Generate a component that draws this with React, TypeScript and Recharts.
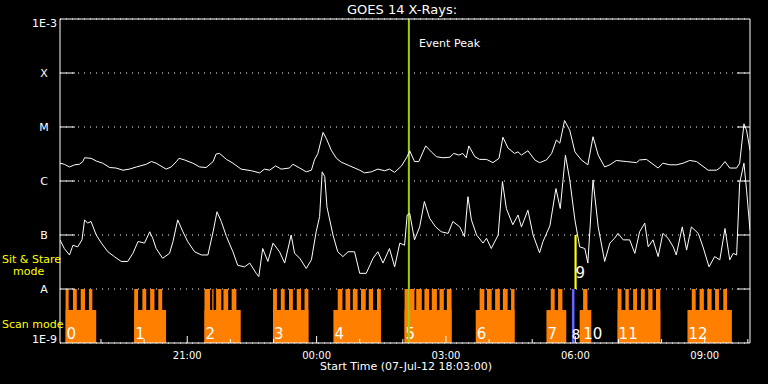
import { LineChart, Line, XAxis, YAxis, CartesianGrid, ReferenceArea, ReferenceLine } from "recharts";

// time axis in decimal hours of day (past midnight = 24+), start 07-Jul-12 18:03
const T_START = 18.05;
const T_END = 34.05;
const hourTicks = [19, 20, 21, 22, 23, 24, 25, 26, 27, 28, 29, 30, 31, 32, 33, 34];

// flux axis as log10(W/m^2)
const fluxTicks = [-9, -8, -7, -6, -5, -4, -3];
const fluxLabels = ["1E-9", "A", "B", "C", "M", "X", "1E-3"];

// GOES 14 1-8 A (long channel): [hour, log10 flux]
const longChannel: [number, number][] = [
  [18.05, -5.67], [18.15, -5.69], [18.27, -5.74], [18.39, -5.7], [18.5, -5.69], [18.58, -5.64],
  [18.62, -5.57], [18.77, -5.58], [18.89, -5.63], [19.04, -5.67], [19.2, -5.75], [19.35, -5.76],
  [19.51, -5.8], [19.66, -5.78], [19.82, -5.74], [20.05, -5.69], [20.17, -5.64], [20.28, -5.67],
  [20.51, -5.78], [20.63, -5.74], [20.75, -5.64], [20.81, -5.58], [20.94, -5.61], [21.13, -5.67],
  [21.29, -5.74], [21.44, -5.75], [21.6, -5.64], [21.67, -5.5], [21.75, -5.49], [21.91, -5.6],
  [22.06, -5.67], [22.25, -5.78], [22.49, -5.81], [22.68, -5.85], [22.79, -5.78], [22.91, -5.8],
  [23.05, -5.72], [23.18, -5.78], [23.37, -5.76], [23.45, -5.69], [23.61, -5.76], [23.76, -5.83],
  [23.88, -5.8], [23.95, -5.61], [24.03, -5.49], [24.15, -5.1], [24.23, -5.22], [24.34, -5.43],
  [24.46, -5.58], [24.57, -5.65], [24.77, -5.72], [25.0, -5.8], [25.11, -5.85], [25.27, -5.83],
  [25.42, -5.78], [25.58, -5.81], [25.69, -5.78], [25.81, -5.84], [25.97, -5.72], [26.1, -5.55],
  [26.16, -5.44], [26.27, -5.64], [26.37, -5.64], [26.53, -5.35], [26.66, -5.46], [26.78, -5.55],
  [26.93, -5.57], [27.09, -5.56], [27.18, -5.49], [27.3, -5.52], [27.39, -5.49], [27.47, -5.57],
  [27.53, -5.35], [27.67, -5.55], [27.78, -5.6], [27.94, -5.6], [28.09, -5.66], [28.23, -5.58],
  [28.32, -5.19], [28.44, -5.39], [28.59, -5.49], [28.67, -5.46], [28.75, -5.52], [28.9, -5.44],
  [29.06, -5.61], [29.17, -5.66], [29.33, -5.61], [29.45, -5.49], [29.56, -5.24], [29.64, -5.3],
  [29.75, -4.88], [29.87, -5.06], [29.99, -5.46], [30.14, -5.61], [30.29, -5.7], [30.41, -5.18],
  [30.53, -5.52], [30.68, -5.74], [30.8, -5.7], [30.95, -5.62], [31.18, -5.64], [31.42, -5.66],
  [31.49, -5.61], [31.65, -5.6], [31.92, -5.76], [32.03, -5.67], [32.19, -5.7], [32.35, -5.7],
  [32.5, -5.67], [32.65, -5.62], [32.81, -5.64], [33.08, -5.8], [33.27, -5.8], [33.35, -5.76],
  [33.47, -5.64], [33.58, -5.76], [33.74, -5.76], [33.81, -5.67], [33.91, -4.94], [33.97, -5.06],
  [34.05, -5.43],
];

// GOES 14 0.5-4 A (short channel): [hour, log10 flux]
const shortChannel: [number, number][] = [
  [18.05, -7.09], [18.15, -7.25], [18.27, -7.37], [18.35, -7.19], [18.46, -7.22], [18.56, -7.09],
  [18.62, -6.72], [18.69, -6.78], [18.77, -6.75], [18.89, -7.0], [19.01, -7.15], [19.16, -7.31],
  [19.31, -7.4], [19.47, -7.49], [19.62, -7.49], [19.74, -7.34], [19.86, -7.12], [20.01, -7.15],
  [20.13, -6.94], [20.2, -7.06], [20.28, -7.25], [20.43, -7.43], [20.59, -7.34], [20.67, -7.12],
  [20.78, -6.72], [20.9, -6.94], [21.01, -7.12], [21.17, -7.31], [21.33, -7.37], [21.48, -7.37],
  [21.6, -6.94], [21.69, -6.57], [21.79, -6.75], [21.91, -7.03], [22.06, -7.31], [22.17, -7.56],
  [22.33, -7.59], [22.45, -7.52], [22.6, -7.71], [22.66, -7.77], [22.75, -7.25], [22.87, -7.49],
  [22.99, -7.15], [23.14, -7.31], [23.26, -7.52], [23.41, -7.0], [23.49, -7.34], [23.61, -7.43],
  [23.76, -7.62], [23.88, -7.46], [23.99, -6.94], [24.07, -6.66], [24.13, -5.83], [24.19, -5.92],
  [24.24, -6.48], [24.38, -7.0], [24.49, -7.31], [24.61, -7.4], [24.73, -7.31], [24.88, -7.31],
  [25.0, -7.71], [25.15, -7.71], [25.31, -7.43], [25.42, -7.31], [25.54, -7.52], [25.69, -7.25],
  [25.81, -7.59], [25.93, -7.15], [26.04, -7.19], [26.1, -6.63], [26.16, -6.6], [26.27, -7.09],
  [26.39, -6.85], [26.5, -6.38], [26.62, -6.69], [26.76, -6.85], [26.89, -6.94], [27.05, -6.97],
  [27.16, -6.75], [27.32, -6.85], [27.43, -7.03], [27.51, -6.29], [27.59, -6.72], [27.71, -7.0],
  [27.86, -7.15], [27.94, -7.06], [28.05, -7.25], [28.21, -7.0], [28.31, -6.01], [28.4, -6.51],
  [28.55, -6.81], [28.67, -6.63], [28.75, -6.85], [28.9, -6.54], [29.02, -7.0], [29.17, -7.33],
  [29.25, -7.12], [29.41, -6.83], [29.55, -6.14], [29.65, -6.51], [29.77, -5.52], [29.87, -5.98],
  [29.99, -6.72], [30.1, -7.22], [30.22, -7.25], [30.29, -7.52], [30.41, -5.98], [30.53, -6.85],
  [30.68, -7.49], [30.8, -7.15], [30.91, -7.06], [30.99, -6.97], [31.11, -7.09], [31.26, -7.09],
  [31.38, -7.34], [31.49, -6.94], [31.61, -6.78], [31.69, -7.22], [31.8, -7.09], [31.92, -7.4],
  [32.03, -6.97], [32.15, -7.06], [32.27, -7.22], [32.34, -7.37], [32.48, -6.85], [32.58, -7.28],
  [32.69, -6.85], [32.85, -6.97], [32.96, -7.22], [33.1, -7.59], [33.23, -7.4], [33.35, -7.46],
  [33.47, -6.88], [33.58, -7.46], [33.66, -7.34], [33.74, -7.37], [33.81, -6.04], [33.91, -5.67],
  [33.97, -6.17], [34.05, -6.91],
];

// scan mode blocks: lower bar from start to end, sit & stare teeth on top
const scanBlocks = [
  { id: "0", start: 18.18, end: 18.89, teeth: [[18.18, 18.25], [18.35, 18.44], [18.53, 18.63], [18.72, 18.8]] },
  { id: "1", start: 19.77, end: 20.51, teeth: [[19.77, 19.86], [19.96, 20.05], [20.14, 20.24], [20.33, 20.42]] },
  { id: "2", start: 21.4, end: 22.24, teeth: [[21.4, 21.53], [21.58, 21.61], [21.67, 21.79], [21.84, 21.95], [22.03, 22.14]] },
  { id: "3", start: 22.99, end: 23.81, teeth: [[22.99, 23.08], [23.17, 23.26], [23.36, 23.45], [23.54, 23.64], [23.72, 23.81]] },
  { id: "4", start: 24.39, end: 25.49, teeth: [[24.49, 24.6], [24.67, 24.78], [24.84, 24.95], [25.03, 25.14], [25.21, 25.31], [25.4, 25.49]] },
  { id: "5", start: 26.04, end: 27.13, teeth: [[26.04, 26.12], [26.16, 26.27], [26.31, 26.44], [26.5, 26.61], [26.67, 26.79], [26.85, 26.95], [27.02, 27.13]] },
  { id: "6", start: 27.69, end: 28.59, teeth: [[27.78, 27.89], [27.95, 28.06], [28.14, 28.25], [28.32, 28.43], [28.51, 28.59]] },
  { id: "7", start: 29.33, end: 29.79, teeth: [[29.43, 29.52], [29.6, 29.7]] },
  { id: "10", start: 30.1, end: 30.37, teeth: [[30.18, 30.28]] },
  { id: "11", start: 30.98, end: 31.97, teeth: [[30.98, 31.07], [31.16, 31.24], [31.34, 31.43], [31.52, 31.61], [31.69, 31.79], [31.87, 31.97]] },
  { id: "12", start: 32.6, end: 33.63, teeth: [[32.7, 32.79], [32.88, 32.98], [33.06, 33.16], [33.24, 33.33], [33.43, 33.52]] },
];
const stareBlue = { id: "8", start: 29.92, end: 29.98 };
const stareYellow = { id: "9", start: 29.98, end: 30.03 };
const eventPeak = 26.14;

const FLOOR = -9;
const SCAN_TOP = -8.39;
const STARE_TOP = -8;

const ORANGE = "#ff8000";
const FONT = "DejaVu Sans, sans-serif";

const longData = longChannel.map(([t, v]) => ({ t, v }));
const shortData = shortChannel.map(([t, v]) => ({ t, v }));

const fmtHour = (h: number) => `${String(h % 24).padStart(2, "0")}:00`;

function BottomTick({ x, y, payload }: any) {
  const major = payload.value % 3 === 0;
  return (
    <g>
      <line x1={x} x2={x} y1={y} y2={y - (major ? 7 : 4)} stroke="#fff" />
      {major && (
        <text x={x} y={y + 16} textAnchor="middle" fill="#fff" fontSize={10} fontFamily={FONT}>
          {fmtHour(payload.value)}
        </text>
      )}
    </g>
  );
}

function TopTick({ x, y, payload }: any) {
  const major = payload.value % 3 === 0;
  return <line x1={x} x2={x} y1={y} y2={y + (major ? 5 : 3)} stroke="#fff" />;
}

function LeftTick({ x, y, payload }: any) {
  const i = fluxTicks.indexOf(payload.value);
  const label = fluxLabels[i];
  if (payload.value === -3 || payload.value === -9) {
    return (
      <text x={x - 3} y={payload.value === -3 ? y + 8 : y} textAnchor="end" fill="#fff" fontSize={11} fontFamily={FONT}>
        {label}
      </text>
    );
  }
  return (
    <g>
      <line x1={x} x2={x + 15} y1={y} y2={y} stroke="#fff" />
      <text x={x - 16} y={y + 4} textAnchor="middle" fill="#fff" fontSize={11} fontFamily={FONT}>
        {label}
      </text>
    </g>
  );
}

function RightTick({ x, y, payload }: any) {
  if (payload.value === -3 || payload.value === -9) return <g />;
  return <line x1={x - 13} x2={x} y1={y} y2={y} stroke="#fff" />;
}

const blockLabel = (id: string, lift: number, dx = 1, size = 15) => (props: any) => {
  const vb = props.viewBox;
  return (
    <text x={vb.x + dx} y={vb.y + vb.height - lift} fill="#fff" fontSize={size} fontFamily={FONT}>
      {id}
    </text>
  );
};

const peakLabel = (props: any) => {
  const vb = props.viewBox;
  return (
    <text x={vb.x + 10} y={vb.y + 28} fill="#fff" fontSize={11} fontFamily={FONT}>
      Event Peak
    </text>
  );
};

export default function App() {
  return (
    <div style={{ position: "absolute", left: 0, top: 0, width: 768, height: 384, background: "#000" }}>
      <LineChart width={768} height={384} margin={{ top: 0, right: 0, bottom: 0, left: 0 }}>
        <CartesianGrid horizontal vertical={false} stroke="#fff" strokeDasharray="1 5" />
        <XAxis
          dataKey="t"
          type="number"
          domain={[T_START, T_END]}
          allowDataOverflow
          ticks={hourTicks}
          interval={0}
          height={41}
          tickSize={0}
          tickMargin={0}
          tickLine={false}
          axisLine={{ stroke: "#fff" }}
          tick={BottomTick}
        />
        <XAxis
          xAxisId="top"
          orientation="top"
          type="number"
          domain={[T_START, T_END]}
          allowDataOverflow
          ticks={hourTicks}
          interval={0}
          height={19}
          tickSize={0}
          tickMargin={0}
          tickLine={false}
          axisLine={{ stroke: "#fff" }}
          tick={TopTick}
        />
        <YAxis
          type="number"
          domain={[-9, -3]}
          allowDataOverflow
          ticks={fluxTicks}
          interval={0}
          width={60}
          tickSize={0}
          tickMargin={0}
          tickLine={false}
          axisLine={{ stroke: "#fff" }}
          tick={LeftTick}
        />
        <YAxis
          yAxisId="r"
          orientation="right"
          type="number"
          domain={[-9, -3]}
          allowDataOverflow
          ticks={fluxTicks}
          interval={0}
          width={18}
          tickSize={0}
          tickMargin={0}
          tickLine={false}
          axisLine={{ stroke: "#fff" }}
          tick={RightTick}
        />
        {scanBlocks.flatMap((b) =>
          b.teeth.map(([a, c], j) => (
            <ReferenceArea key={"t" + b.id + "-" + j} x1={a} x2={c} y1={FLOOR} y2={STARE_TOP} fill={ORANGE} fillOpacity={1} stroke="none" />
          ))
        )}
        {scanBlocks.map((b) => (
          <ReferenceArea
            key={"s" + b.id}
            x1={b.start}
            x2={b.end}
            y1={FLOOR}
            y2={SCAN_TOP}
            fill={ORANGE}
            fillOpacity={1}
            stroke="none"
            label={blockLabel(b.id, 4, b.id === "10" ? 3.5 : 1)}
          />
        ))}
        <ReferenceArea
          x1={stareBlue.start}
          x2={stareBlue.end}
          y1={FLOOR}
          y2={STARE_TOP}
          fill="#6464ff"
          fillOpacity={1}
          stroke="none"
          label={blockLabel(stareBlue.id, 4, -0.5, 14)}
        />
        <ReferenceArea
          x1={stareYellow.start}
          x2={stareYellow.end}
          y1={STARE_TOP}
          y2={-7}
          fill="#ffff00"
          fillOpacity={1}
          stroke="none"
          label={blockLabel(stareYellow.id, 11)}
        />
        <ReferenceLine x={eventPeak} stroke="#9ccc14" strokeWidth={2} label={peakLabel} />
        <Line data={longData} dataKey="v" type="linear" stroke="#fff" strokeWidth={1} dot={false} isAnimationActive={false} />
        <Line data={shortData} dataKey="v" type="linear" stroke="#fff" strokeWidth={1} dot={false} isAnimationActive={false} />
      </LineChart>
      <svg width={768} height={384} style={{ position: "absolute", left: 0, top: 0, pointerEvents: "none" }} fontFamily={FONT}>
        <text x={347} y={14} fill="#fff" fontSize={13}>GOES 14 X-Rays:</text>
        <text x={320} y={370} fill="#fff" fontSize={11}>Start Time (07-Jul-12 18:03:00)</text>
        <text x={2} y={263} fill="#ffff00" fontSize={11}>Sit &amp; Stare</text>
        <text x={13} y={275} fill="#ffff00" fontSize={11}>mode</text>
        <text x={2} y={328} fill="#ffff00" fontSize={11}>Scan mode</text>
      </svg>
    </div>
  );
}
